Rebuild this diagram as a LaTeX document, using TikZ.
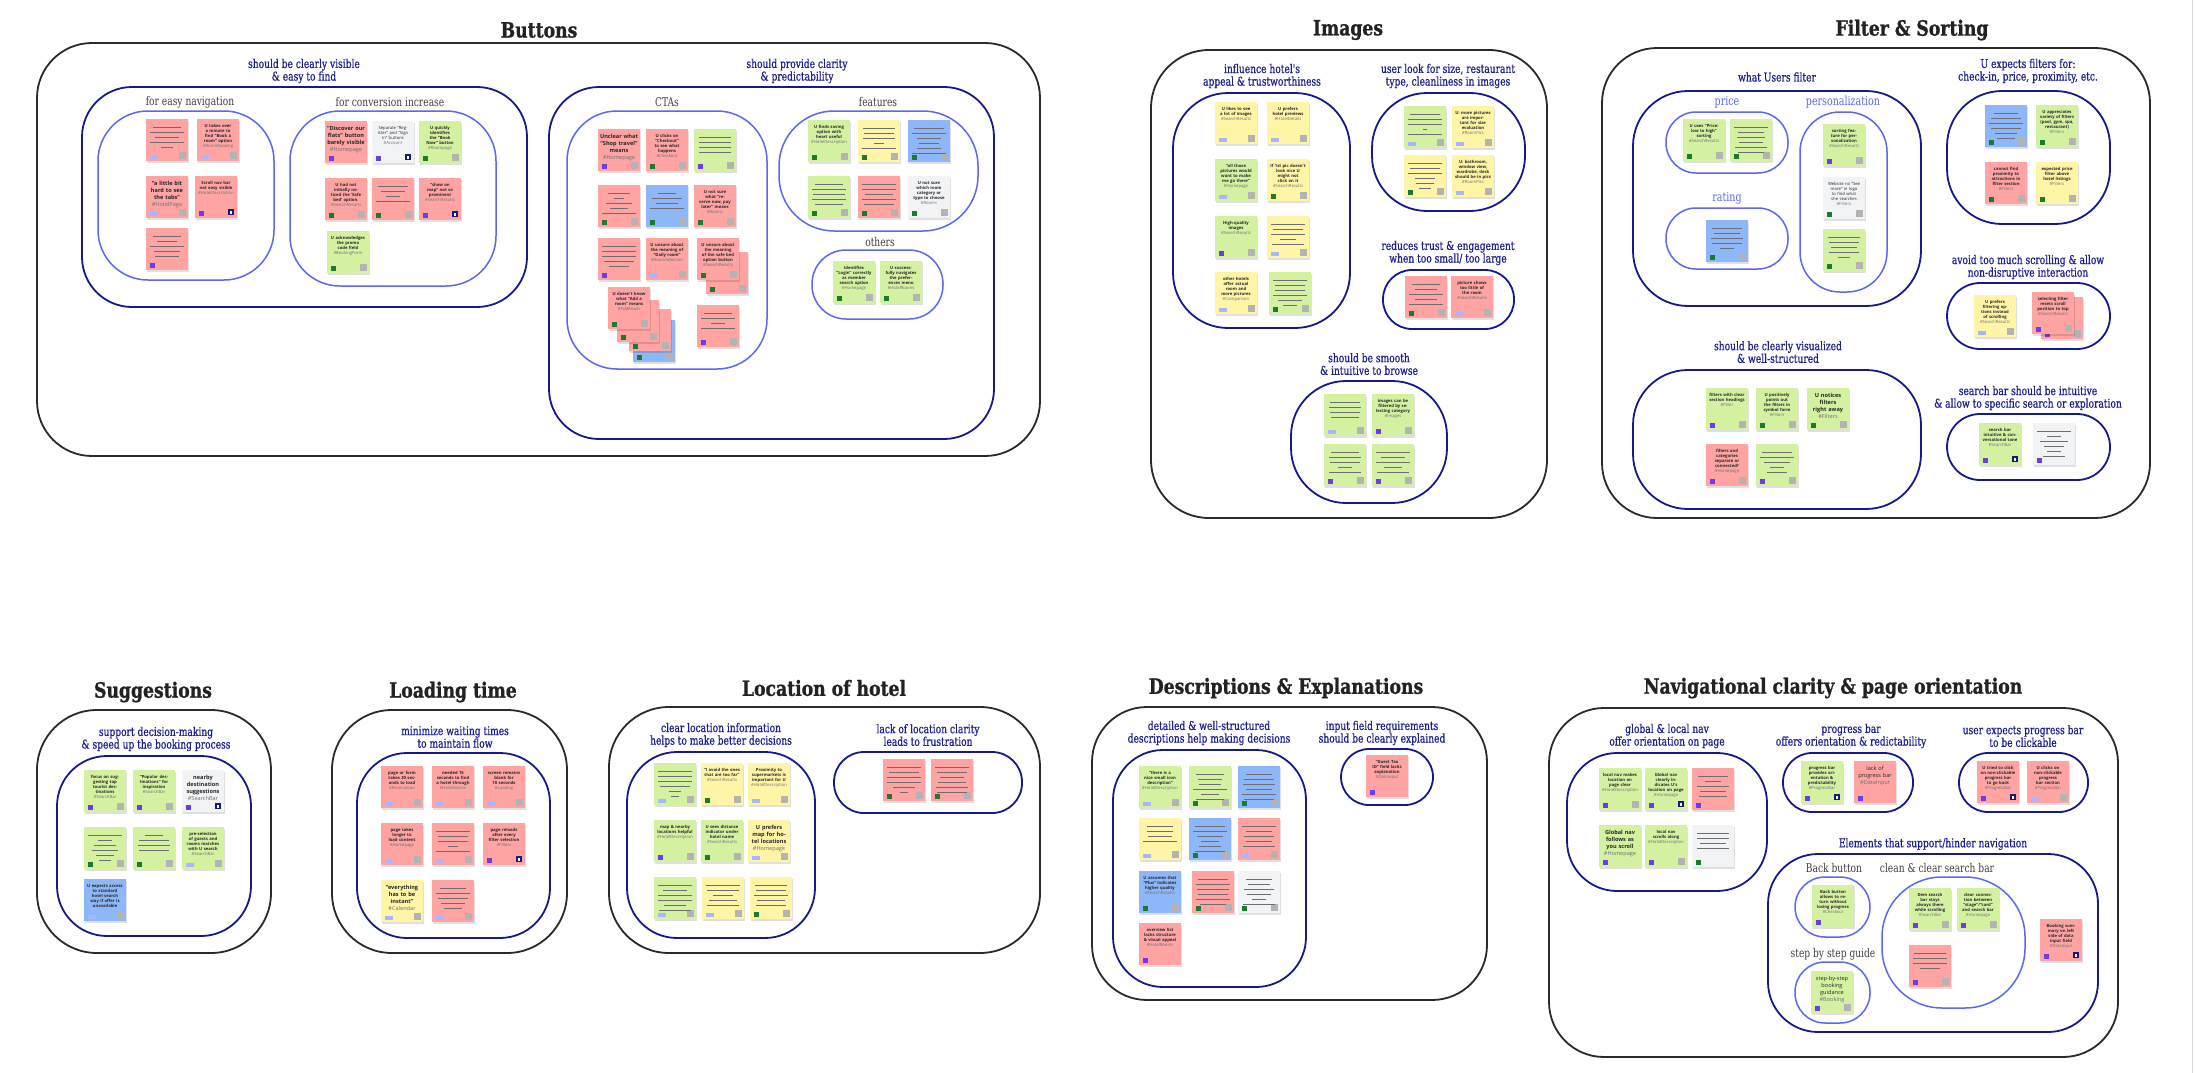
\documentclass[tikz,border=0pt]{standalone}
\usepackage{fontspec}
\setmainfont{Open Sans}
\newfontfamily\slab{DejaVu Serif}[UprightFont=* Bold, FakeStretch=0.82, FakeBold=1]
\newfontfamily\slabm{DejaVu Serif}[FakeStretch=0.76, FakeBold=0.6]
\newfontfamily\slabl{DejaVu Serif}[FakeStretch=0.76]
\newfontfamily\nf{Open Sans}
\usetikzlibrary{calc}
\definecolor{stR}{HTML}{FFA3A3}
\definecolor{stG}{HTML}{D4F1A2}
\definecolor{stY}{HTML}{FFF5A6}
\definecolor{stB}{HTML}{8DB7F8}
\definecolor{stW}{HTML}{F2F3F5}
\definecolor{tpurple}{HTML}{6A3DE8}
\definecolor{tgreen}{HTML}{1B7A2E}
\definecolor{tlblue}{HTML}{A9B6FF}
\definecolor{tgrey}{HTML}{B3B3B3}
\definecolor{tnavy}{HTML}{161A7E}
\definecolor{navyc}{HTML}{16198C}
\definecolor{navyt}{HTML}{1C2090}
\definecolor{bluec}{HTML}{5C67F2}
\definecolor{bluet}{HTML}{5B68F0}
\definecolor{outerc}{HTML}{2A2A2A}
\definecolor{greyt}{HTML}{404040}
\definecolor{titlec}{HTML}{222222}
\definecolor{linec}{HTML}{6E6E6E}
\definecolor{hashc}{HTML}{707070}
\newcommand\hs[1]{{\color{hashc}\mdseries #1}}
\newcommand\ltP[1]{\fill[tpurple] ([shift={(4,-7)}]#1.south west) rectangle ++(5,5);}
\newcommand\ltG[1]{\fill[tgreen] ([shift={(4,-7)}]#1.south west) rectangle ++(5,5);}
\newcommand\ltL[1]{\fill[tlblue] ([shift={(4,-6.5)}]#1.south west) rectangle ++(7.5,4);}
\newcommand\rtS[1]{\fill[tgrey] ([shift={(-9,-9)}]#1.south east) rectangle ++(6.5,6.5);}
\newcommand\rtN[1]{\fill[tnavy] ([shift={(-9,-9)}]#1.south east) rectangle ++(6,6);\fill[white] ([shift={(-7,-7.5)}]#1.south east) rectangle ++(2,3);}
\newcommand\rtX[1]{}
\newcommand\stk[6]{%
  \fill[stshadow] (#2+1,#3+1.5) rectangle (#2+43,#3+43.5);
  \node[sticky,fill=#4] (#1) at (#2+21,#3+21) {};
  \csname lt#5\endcsname{#1}%
  \csname rt#6\endcsname{#1}%
}
\newcommand\stl[2]{\foreach \w [count=\i] in {#2}{\draw[stline] ($(#1.north)+({-\w/2},{3.5+5*\i})$) -- ++(\w,0);}}
\newcommand\stt[2]{\node[stxt] (#1-t) at ([yshift=-5pt]#1.north) {#2};}
\newcommand\sttL[2]{\node[stxtL] (#1-t) at ([yshift=-5pt]#1.north) {#2};}
\newcommand\grp[7]{\node[#2, minimum width={#5-#3}, minimum height={#6-#4}, rounded corners=#7] (#1) at ({(#3+#5)/2},{(#4+#6)/2}) {};}
\begin{document}
\begin{tikzpicture}[x=1pt,y=-1pt,
  sticky/.style={rectangle, minimum size=42, inner sep=0, outer sep=0},
  stshadow/.style={fill=black, opacity=0.12},
  stline/.style={draw=linec, line width=1.3},
  stxt/.style={text width=36, align=center, anchor=north, inner sep=0, text=black!85, font=\nf\bfseries\fontsize{4.2}{5.1}\selectfont},
  stxtL/.style={text width=38, align=center, anchor=north, inner sep=0, text=black!85, font=\nf\bfseries\fontsize{5.6}{7}\selectfont},
  outerbox/.style={draw=outerc, line width=1.8, inner sep=0, outer sep=0},
  navybox/.style={draw=navyc, line width=1.8, inner sep=0, outer sep=0},
  bluebox/.style={draw=bluec, line width=1.5, inner sep=0, outer sep=0},
  ttl/.style={font=\slab\fontsize{21}{24}\selectfont, text=titlec, inner sep=0},
  lbl/.style={font=\slabm\fontsize{12}{12.6}\selectfont, text=navyt, align=center, inner sep=0},
  sub/.style={font=\slabl\fontsize{12}{13}\selectfont, text=greyt, inner sep=0},
  sublb/.style={font=\slabl\fontsize{12.5}{13}\selectfont, text=bluet, inner sep=0}]
\fill[white] (0,0) rectangle (2195,1073);
\useasboundingbox (0,0) rectangle (2195,1073);
\draw[black!15, line width=1] (2192,0) -- (2192,1073);

% ================= BUTTONS =================
\node[ttl] (tButtons) at (539,30) {Buttons};
\grp{bOut}{outerbox}{37}{43}{1040}{456}{55}
\grp{bA}{navybox}{82}{87}{527}{307}{50}
\grp{bA1}{bluebox}{98}{111}{274}{280}{50}
\grp{bA2}{bluebox}{290}{111}{496}{286}{50}
\grp{bB}{navybox}{549}{87}{994}{439}{50}
\grp{bB1}{bluebox}{567}{111}{767}{369}{50}
\grp{bB2}{bluebox}{779}{111}{978}{231}{55}
\grp{bB3}{bluebox}{812}{250}{943}{319}{34}
\node[lbl] (lbA) at (304,71) {should be clearly visible\\\& easy to find};
\node[sub] (lbA1) at (190,102) {for easy navigation};
\node[sub] (lbA2) at (390,102) {for conversion increase};
\node[lbl] (lbB) at (797,71) {should provide clarity\\\& predictability};
\node[sub] (lbB1) at (667,102) {CTAs};
\node[sub] (lbB2) at (878,102) {features};
\node[sub] (lbB3) at (880,242) {others};

\stk{e1}{146}{119}{stR}{L}{S}\stl{e1}{28,34,24,34,12}
\stk{e2}{197}{119}{stR}{L}{S}\stt{e2}{U takes over a minute to find “Book a room” option\\\hs{\#RoomBooking}}
\stk{e3}{146}{176}{stR}{L}{S}\sttL{e3}{“a little bit hard to see the tabs”\\\hs{\#HotelPage}}
\stk{e4}{195}{176}{stR}{P}{N}\stt{e4}{Scroll nav bar not easy visible\\\hs{\#HotelDescription}}
\stk{e5}{146}{228}{stR}{P}{X}\stl{e5}{28,20,34,26,24}

\stk{c1}{325}{121}{stR}{P}{X}\sttL{c1}{“Discover our flats” button barely visible\\\hs{\#Homepage}}
\stk{c2}{372}{121}{stW}{P}{N}\stt{c2}{\mdseries Separate “Register” and “Sign In” buttons\\\hs{\#Account}}
\stk{c3}{419}{121}{stG}{G}{S}\stt{c3}{U quickly identifies the “Book Now” button\\\hs{\#Roompage}}
\stk{c4}{325}{178}{stR}{G}{S}\stt{c4}{U had not initially noticed the ‘Safe bed’ option.\\\hs{\#SearchResults}}
\stk{c5}{372}{178}{stR}{G}{S}\stl{c5}{30,24,14,34}
\stk{c6}{419}{178}{stR}{P}{N}\stt{c6}{“show on map” not so prominent\\\hs{\#SearchResults}}
\stk{c7}{327}{231}{stG}{G}{S}\stt{c7}{U acknowledges the promo code field\\\hs{\#BookingForm}}

\stk{t1}{598}{129}{stR}{P}{S}\sttL{t1}{Unclear what “Shop travel” means\\\hs{\#Homepage}}
\stk{t2}{646}{129}{stR}{G}{S}\stt{t2}{U clicks on “Checkout” to see what happens\\\hs{\#Checkout}}
\stk{t3}{694}{129}{stG}{P}{S}\stl{t3}{32,32,32,32}
\stk{t4}{598}{185}{stR}{G}{S}\stl{t4}{22,10,26,18,34}
\stk{t5}{646}{185}{stB}{G}{S}\stl{t5}{18,30,22,34}
\stk{t6}{694}{185}{stR}{G}{S}\stt{t6}{U not sure what “reserve now, pay later” means\\\hs{\#Rooms}}
\stk{t7}{598}{238}{stR}{P}{X}\stl{t7}{34,34,34,30,20}
\stk{t8}{646}{238}{stR}{L}{S}\stt{t8}{U unsure about the meaning of “Daily room”\\\hs{\#RoomSelection}}
\stk{t9b}{706}{252}{stR}{G}{S}
\stk{t9}{697}{238}{stR}{G}{S}\stt{t9}{U unsure about the meaning of the safe bed option button\\\hs{\#SearchResults}}
\stk{t10d}{633}{320}{stB}{G}{S}
\stk{t10c}{629}{309}{stR}{G}{S}
\stk{t10b}{617}{300}{stR}{G}{S}
\stk{t10}{608}{287}{stR}{G}{S}\stt{t10}{U doesn't know what “Add a room” means\\\hs{\#AddRoom}}
\stk{t11}{697}{305}{stR}{P}{S}\stl{t11}{28,34,14,34}

\stk{f1}{808}{120}{stG}{G}{S}\stt{f1}{U finds saving option with heart useful\\\hs{\#HotelDescription}}
\stk{f2}{858}{120}{stY}{G}{S}\stl{f2}{32,30,32,10,34}
\stk{f3}{908}{120}{stB}{G}{S}\stl{f3}{30,34,24,20,24,34}
\stk{f4}{808}{176}{stG}{G}{S}\stl{f4}{28,34,32,34,28}
\stk{f5}{858}{176}{stR}{G}{S}\stl{f5}{34,34,28,34,30}
\stk{f6}{908}{176}{stW}{G}{S}\stt{f6}{U not sure which room category or type to choose\\\hs{\#Rooms}}

\stk{o1}{833}{261}{stG}{G}{S}\stt{o1}{Identifies “Login” correctly as member search option\\\hs{\#Homepage}}
\stk{o2}{880}{261}{stG}{G}{S}\stt{o2}{U successfully navigates the preferences menu\\\hs{\#HotelRooms}}

% ================= IMAGES =================
\node[ttl] (tImages) at (1348,30) {Images};
\grp{iOut}{outerbox}{1151}{50}{1547}{518}{58}
\grp{iA}{navybox}{1173}{93}{1350}{328}{55}
\grp{iB}{navybox}{1372}{93}{1525}{211}{55}
\grp{iC}{navybox}{1383}{270}{1514}{329}{29}
\grp{iD}{navybox}{1291}{381}{1447}{503}{55}
\node[lbl] (liA) at (1262,76) {influence hotel's\\appeal \& trustworthiness};
\node[lbl] (liB) at (1448,76) {user look for size, restaurant\\type, cleanliness in images};
\node[lbl] (liC) at (1448,253) {reduces trust \& engagement\\when too small/ too large};
\node[lbl] (liD) at (1369,364) {should be smooth\\\& intuitive to browse};

\stk{i1}{1215}{102}{stY}{L}{S}\stt{i1}{U likes to see a lot of images\\\hs{\#SearchResults}}
\stk{i2}{1267}{102}{stY}{L}{S}\stt{i2}{U prefers hotel previews\\\hs{\#HotelDetails}}
\stk{i3}{1215}{159}{stG}{L}{S}\stt{i3}{“all those pictures would want to make me go there”\\\hs{\#Homepage}}
\stk{i4}{1267}{159}{stY}{G}{S}\stt{i4}{If 1st pic doesn't look nice U might not click on it\\\hs{\#SearchResults}}
\stk{i5}{1215}{216}{stG}{P}{S}\stt{i5}{High-quality images\\\hs{\#SearchResults}}
\stk{i6}{1267}{216}{stY}{L}{S}\stl{i6}{34,30,34,16,32}
\stk{i7}{1215}{272}{stY}{L}{S}\stt{i7}{other hotels offer actual room and more pictures\\\hs{\#Comparison}}
\stk{i8}{1269}{272}{stG}{G}{S}\stl{i8}{34,30,30,34,24,14}

\stk{u1}{1404}{106}{stG}{L}{S}\stl{u1}{30,34,34,4,34}
\stk{u2}{1452}{106}{stY}{L}{S}\stt{u2}{U: more pictures are important for size evaluation\\\hs{\#RoomPics}}
\stk{u3}{1404}{155}{stY}{G}{S}\stl{u3}{34,30,34,20,18,12}
\stk{u4}{1452}{155}{stY}{L}{S}\stt{u4}{U: bathroom, window view, wardrobe, desk should be in pics\\\hs{\#RoomPics}}

\stk{r1}{1405}{276}{stR}{G}{S}\stl{r1}{28,22,34,22,34}
\stk{r2}{1451}{276}{stR}{L}{S}\stt{r2}{picture shows too little of the room\\\hs{\#SearchResults}}

\stk{s1}{1324}{394}{stG}{L}{S}\stl{s1}{30,32,30,28}
\stk{s2}{1372}{394}{stG}{P}{S}\stt{s2}{images can be filtered by selecting category\\\hs{\#Images}}
\stk{s3}{1324}{444}{stG}{P}{S}\stl{s3}{28,32,30,14,32}
\stk{s4}{1372}{444}{stG}{P}{S}\stl{s4}{34,24,34,18,32}

% ================= FILTER & SORTING =================
\node[ttl] (tFilter) at (1912,30) {Filter \& Sorting};
\grp{fOut}{outerbox}{1602}{48}{2150}{518}{55}
\grp{fA}{navybox}{1633}{91}{1921}{306}{55}
\grp{fA1}{bluebox}{1666}{112}{1788}{173}{30}
\grp{fA2}{bluebox}{1666}{208}{1788}{269}{30}
\grp{fA3}{bluebox}{1800}{112}{1887}{292}{40}
\grp{fB}{navybox}{1947}{91}{2110}{224}{55}
\grp{fC}{navybox}{1947}{283}{2110}{349}{33}
\grp{fD}{navybox}{1633}{370}{1921}{509}{55}
\grp{fE}{navybox}{1947}{414}{2110}{480}{33}
\node[lbl] (lfA) at (1777,77) {what Users filter};
\node[sublb] (lfA1) at (1727,102) {price};
\node[sublb] (lfA2) at (1727,198) {rating};
\node[sublb] (lfA3) at (1843,102) {personalization};
\node[lbl] (lfB) at (2028,71) {U expects filters for:\\check-in, price, proximity, etc.};
\node[lbl] (lfC) at (2028,267) {avoid too much scrolling \& allow\\non-disruptive interaction};
\node[lbl] (lfD) at (1778,352) {should be clearly visualized\\\& well-structured};
\node[lbl] (lfE) at (2028,398) {search bar should be intuitive\\\& allow to specific search or exploration};

\stk{p1}{1683}{119}{stG}{G}{S}\stt{p1}{U uses “Price: low to high” sorting\\\hs{\#SearchResults}}
\stk{p2}{1730}{119}{stG}{G}{S}\stl{p2}{34,26,28,24,32,26}
\stk{rt1}{1706}{220}{stB}{G}{S}\stl{rt1}{30,26,32,30,14}
\stk{z1}{1823}{124}{stG}{P}{S}\stt{z1}{sorting feature for personalization\\\hs{\#SearchResults}}
\stk{z2}{1823}{177}{stW}{G}{S}\stt{z2}{\mdseries Website no “See more” in logo to find what she searches\\\hs{\#Filters}}
\stk{z3}{1823}{229}{stG}{G}{S}\stl{z3}{32,30,26,30,12}
\stk{x1}{1985}{105}{stB}{G}{S}\stl{x1}{24,30,34,30,22,18}
\stk{x2}{2036}{105}{stG}{G}{S}\stt{x2}{U appreciates variety of filters (pool, gym, spa, restaurant)\\\hs{\#Filters}}
\stk{x3}{1985}{162}{stR}{G}{S}\stt{x3}{cannot find proximity to attractions in filter section\\\hs{\#Filters}}
\stk{x4}{2036}{162}{stY}{G}{S}\stt{x4}{expected price filter above hotel listings\\\hs{\#Filters}}
\stk{a1}{1974}{295}{stY}{L}{S}\stt{a1}{U prefers filtering options instead of scrolling\\\hs{\#SearchResults}}
\stk{a2b}{2041}{297}{stR}{P}{S}
\stk{a2}{2032}{292}{stR}{P}{S}\stt{a2}{selecting filter resets scroll position to top\\\hs{\#SearchResults}}
\stk{v1}{1706}{388}{stG}{P}{S}\stt{v1}{filters with clear section headings\\\hs{\#Filter}}
\stk{v2}{1756}{388}{stG}{G}{S}\stt{v2}{U positively points out the filters in symbol form\\\hs{\#Filters}}
\stk{v3}{1807}{388}{stG}{G}{S}\sttL{v3}{U notices filters right away\\\hs{\#Filters}}
\stk{v4}{1706}{444}{stR}{P}{S}\stt{v4}{filters and categories separate or connected?\\\hs{\#Homepage}}
\stk{v5}{1756}{444}{stG}{P}{S}\stl{v5}{30,34,26,14,20}
\stk{q1}{1979}{423}{stG}{P}{N}\stt{q1}{search bar intuitive \& conversational tone\\\hs{\#SearchBar}}
\stk{q2}{2033}{423}{stW}{P}{X}\stl{q2}{34,14,28,20,14,22}

% ================= SUGGESTIONS =================
\node[ttl] (tSugg) at (153,692) {Suggestions};
\grp{gOut}{outerbox}{37}{710}{271}{953}{60}
\grp{gA}{navybox}{57}{756}{251}{936}{50}
\node[lbl] (lgA) at (156,739) {support decision-making\\\& speed up the booking process};
\stk{g1}{84}{770}{stG}{P}{S}\stt{g1}{focus on suggesting top tourist destinations\\\hs{\#SearchBar}}
\stk{g2}{133}{770}{stG}{P}{S}\stt{g2}{“Popular destinations” for inspiration\\\hs{\#SearchBar}}
\stk{g3}{182}{770}{stW}{P}{N}\sttL{g3}{nearby destination suggestions\\\hs{\#SearchBar}}
\stk{g4}{84}{827}{stG}{G}{S}\stl{g4}{34,14,22,26,18,12}
\stk{g5}{133}{827}{stG}{G}{S}\stl{g5}{18,30,32,30}
\stk{g6}{182}{827}{stG}{L}{S}\stt{g6}{pre-selection of guests and rooms matches with U search\\\hs{\#SearchBar}}
\stk{g7}{84}{879}{stB}{L}{S}\stt{g7}{U expects access to standard hotel search way if offer is unavailable}

% ================= LOADING TIME =================
\node[ttl] (tLoad) at (453,692) {Loading time};
\grp{lOut}{outerbox}{332}{710}{567}{953}{60}
\grp{lA}{navybox}{357}{753}{550}{938}{50}
\node[lbl] (llA) at (455,737) {minimize waiting times\\to maintain flow};
\stk{l1}{381}{766}{stR}{L}{S}\stt{l1}{page or form takes 20 seconds to load\\\hs{\#Reservation}}
\stk{l2}{432}{766}{stR}{L}{S}\stt{l2}{needed 15 seconds to find a hotel through\\\hs{\#HotelSearch}}
\stk{l3}{483}{766}{stR}{L}{S}\stt{l3}{screen remains blank for 10 seconds\\\hs{\#Loading}}
\stk{l4}{381}{823}{stR}{L}{S}\stt{l4}{page takes longer to load content\\\hs{\#Homepage}}
\stk{l5}{432}{823}{stR}{L}{S}\stl{l5}{34,30,30,10,34}
\stk{l6}{483}{823}{stR}{P}{N}\stt{l6}{page reloads after every filter selection\\\hs{\#Filters}}
\stk{l7}{381}{880}{stY}{L}{S}\sttL{l7}{“everything has to be instant”\\\hs{\#Calendar}}
\stk{l8}{432}{880}{stR}{L}{S}\stl{l8}{26,34,30,24,18}

% ================= LOCATION OF HOTEL =================
\node[ttl] (tLoc) at (824,688) {Location of hotel};
\grp{hOut}{outerbox}{609}{707}{1040}{953}{60}
\grp{hA}{navybox}{627}{752}{815}{938}{50}
\grp{hB}{navybox}{834}{752}{1022}{813}{30}
\node[lbl] (lhA) at (721,735) {clear location information\\helps to make better decisions};
\node[lbl] (lhB) at (928,735) {lack of location clarity\\leads to frustration};
\stk{h1}{654}{763}{stG}{L}{S}\stl{h1}{34,34,34,30,12,8}
\stk{h2}{701}{763}{stY}{G}{S}\stt{h2}{“I avoid the ones that are too far”\\\hs{\#SearchResults}}
\stk{h3}{748}{763}{stY}{L}{S}\stt{h3}{Proximity to supermarkets is important for U\\\hs{\#HotelDescription}}
\stk{h4}{654}{820}{stG}{P}{S}\stt{h4}{map \& nearby locations helpful\\\hs{\#HotelDescription}}
\stk{h5}{701}{820}{stG}{G}{S}\stt{h5}{U sees distance indicator under hotel name\\\hs{\#SearchResults}}
\stk{h6}{748}{820}{stY}{L}{S}\sttL{h6}{U prefers map for hotel locations\\\hs{\#Homepage}}
\stk{h7}{654}{877}{stG}{L}{S}\stl{h7}{34,24,34,34,22,32}
\stk{h8}{702}{877}{stY}{L}{S}\stl{h8}{34,32,20,28,32}
\stk{h9}{750}{877}{stY}{G}{S}\stl{h9}{32,30,34,28,30}
\stk{k1}{883}{759}{stR}{G}{S}\stl{k1}{34,30,34,34,22,8}
\stk{k2}{931}{759}{stR}{G}{S}\stl{k2}{34,30,24,28,32,30}

% ================= DESCRIPTIONS =================
\node[ttl] (tDesc) at (1286,688) {Descriptions \& Explanations};
\grp{dOut}{outerbox}{1092}{707}{1487}{1000}{55}
\grp{dA}{navybox}{1113}{750}{1306}{987}{50}
\grp{dB}{navybox}{1341}{749}{1433}{805}{28}
\node[lbl] (ldA) at (1209,733) {detailed \& well-structured\\descriptions help making decisions};
\node[lbl] (ldB) at (1382,733) {input field requirements\\should be clearly explained};
\stk{d1}{1139}{766}{stG}{L}{S}\stt{d1}{“there is a nice small icon description”\\\hs{\#HotelDescription}}
\stk{d2}{1189}{766}{stG}{G}{S}\stl{d2}{28,24,22,34,18,28}
\stk{d3}{1238}{766}{stB}{G}{S}\stl{d3}{26,30,32,26,34,30}
\stk{d4}{1139}{818}{stY}{L}{S}\stl{d4}{26,26,24,34}
\stk{d5}{1189}{818}{stB}{G}{S}\stl{d5}{30,34,26,18,22,30}
\stk{d6}{1238}{818}{stR}{L}{S}\stl{d6}{34,26,30,26,32}
\stk{d7}{1139}{871}{stB}{G}{S}\stt{d7}{U assumes that “Plus” indicates higher quality\\\hs{\#SearchResults}}
\stk{d8}{1192}{871}{stR}{G}{S}\stl{d8}{30,34,32,30,34,26}
\stk{d9}{1238}{871}{stW}{G}{S}\stl{d9}{26,22,30,24,14,32}
\stk{d10}{1139}{923}{stR}{P}{X}\stt{d10}{overview list lacks structure \& visual appeal\\\hs{\#HotelRooms}}
\stk{n1}{1366}{755}{stR}{P}{X}\stt{n1}{“Guest Tax ID” field lacks explanation\\\hs{\#DataInput}}

% ================= NAVIGATIONAL CLARITY =================
\node[ttl] (tNav) at (1833,688) {Navigational clarity \& page orientation};
\grp{mOut}{outerbox}{1549}{708}{2118}{1057}{55}
\grp{mA}{navybox}{1567}{753}{1767}{891}{50}
\grp{mB}{navybox}{1783}{753}{1913}{812}{29}
\grp{mC}{navybox}{1959}{753}{2088}{812}{29}
\grp{mD}{navybox}{1768}{854}{2098}{1032}{50}
\grp{mD1}{bluebox}{1795}{877}{1870}{937}{30}
\grp{mD2}{bluebox}{1795}{962}{1870}{1023}{30}
\grp{mD3}{bluebox}{1882}{877}{2025}{1008}{60}
\node[lbl] (lmA) at (1667,736) {global \& local nav\\offer orientation on page};
\node[lbl] (lmB) at (1851,736) {progress bar\\offers orientation \& redictability};
\node[lbl] (lmC) at (2023,736) {user expects progress bar\\to be clickable};
\node[lbl] (lmD) at (1933,844) {Elements that support/hinder navigation};
\node[sub] (lmD1) at (1834,868) {Back button};
\node[sub] (lmD2) at (1833,954) {step by step guide};
\node[sub] (lmD3) at (1937,868) {clean \& clear search bar};
\stk{m1}{1599}{768}{stG}{P}{S}\stt{m1}{local nav makes location on page clear\\\hs{\#HotelDescription}}
\stk{m2}{1645}{768}{stG}{P}{N}\stt{m2}{Global nav clearly indicates U's location on page\\\hs{\#Homepage}}
\stk{m3}{1692}{768}{stR}{P}{X}\stl{m3}{30,16,32,26,28}
\stk{m4}{1599}{825}{stG}{P}{X}\sttL{m4}{Global nav follows as you scroll\\\hs{\#Homepage}}
\stk{m5}{1645}{825}{stG}{P}{S}\stt{m5}{local nav scrolls along\\\hs{\#HotelDescription}}
\stk{m6}{1692}{825}{stW}{G}{X}\stl{m6}{32,32,26,32}
\stk{pb1}{1801}{761}{stG}{P}{N}\stt{pb1}{progress bar provides orientation \& predictability\\\hs{\#ProgressBar}}
\stk{pb2}{1854}{761}{stR}{P}{X}\sttL{pb2}{\mdseries lack of progress bar\\\hs{\#DataInput}}
\stk{ue1}{1977}{761}{stR}{P}{N}\stt{ue1}{U tried to click on non-clickable progress bar to go back\\\hs{\#ProgressBar}}
\stk{ue2}{2027}{761}{stR}{L}{S}\stt{ue2}{U clicks on non-clickable progress bar section\\\hs{\#ProgressBar}}
\stk{bb1}{1812}{885}{stG}{P}{X}\stt{bb1}{Back button allows to return without losing progress\\\hs{\#Checkout}}
\stk{sg1}{1811}{971}{stG}{P}{S}\sttL{sg1}{\mdseries step-by-step booking guidance\\\hs{\#Booking}}
\stk{sb1}{1909}{888}{stG}{P}{S}\stt{sb1}{Dem search bar stays always there while scrolling\\\hs{\#SearchBar}}
\stk{sb2}{1957}{888}{stG}{P}{S}\stt{sb2}{clear connection between “stage”/“card” and search bar\\\hs{\#Homepage}}
\stk{sb3}{1909}{945}{stR}{P}{S}\stl{sb3}{32,34,34,20}
\stk{ot1}{2040}{919}{stR}{P}{N}\stt{ot1}{Booking summary on left side of data input field\\\hs{\#DataInput}}
\end{tikzpicture}
\end{document}
